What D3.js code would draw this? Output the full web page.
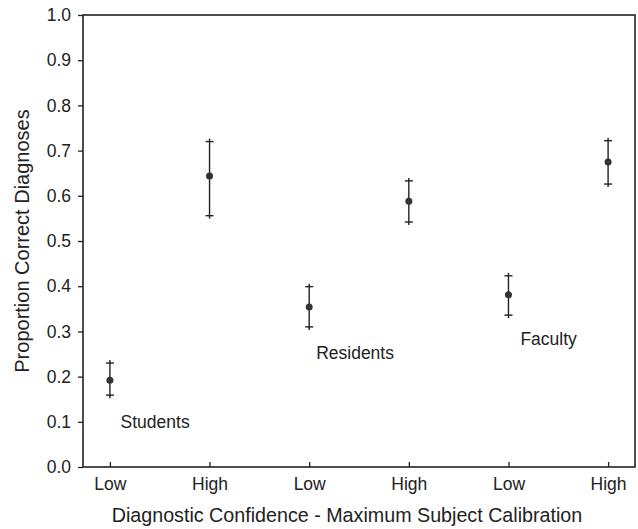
<!DOCTYPE html>
<html>
<head>
<meta charset="utf-8">
<script src="https://cdn.jsdelivr.net/npm/d3@7"></script>
<style>
  body { margin: 0; background: #fff; }
  text { font-family: "Liberation Sans", Arial, sans-serif; fill: #222; }
</style>
</head>
<body>
<div id="viz"></div>
<script>
// categories along x (position 1..6)
const tickLabels = ['Low', 'High', 'Low', 'High', 'Low', 'High'];
const groups = ['Students', 'Students', 'Residents', 'Residents', 'Faculty', 'Faculty'];
// proportion correct, with upper / lower error limits
const means = [0.192, 0.644, 0.354, 0.588, 0.381, 0.675];
const upper = [0.230, 0.720, 0.399, 0.633, 0.423, 0.722];
const lower = [0.159, 0.556, 0.310, 0.542, 0.336, 0.626];
const yTicks = [0, 0.1, 0.2, 0.3, 0.4, 0.5, 0.6, 0.7, 0.8, 0.9, 1.0];
// group labels and where they sit (x position in category units, y in data units)
const groupLabels = [
  { name: 'Students', x: 1.107, y: 0.086 },
  { name: 'Residents', x: 3.07, y: 0.239 },
  { name: 'Faculty', x: 5.12, y: 0.270 },
];

const width = 638;
const height = 529;
const margin = { left: 83, right: 3, top: 15, bottom: 62 };

const svg = d3.select('#viz').append('svg')
  .attr('width', width)
  .attr('height', height);

const xScale = d3.scaleLinear()
  .domain([0.73, 6.27])
  .range([margin.left, width - margin.right]);

const yScale = d3.scaleLinear()
  .domain([0, 1])
  .range([height - margin.bottom, margin.top]);

const ink = '#222';

// frame
svg.append('rect')
  .attr('x', xScale(0.73))
  .attr('y', yScale(1))
  .attr('width', xScale(6.27) - xScale(0.73))
  .attr('height', yScale(0) - yScale(1))
  .attr('fill', 'none')
  .attr('stroke', ink)
  .attr('stroke-width', 1.6);

// y axis
const yAxis = svg.append('g')
  .attr('transform', `translate(${margin.left},0)`)
  .call(d3.axisLeft(yScale).tickValues(yTicks).tickFormat(d3.format('.1f')).tickSize(5).tickPadding(7));
yAxis.select('.domain').remove();
yAxis.selectAll('line').attr('stroke', ink).attr('stroke-width', 1.3);
yAxis.selectAll('text').style('font-size', '17.5px').attr('fill', ink);

// x axis (ticks point inward)
const xAxis = svg.append('g')
  .attr('transform', `translate(0,${height - margin.bottom})`)
  .call(d3.axisBottom(xScale).tickValues(d3.range(1, 7)).tickFormat((d) => tickLabels[d - 1]).tickSizeInner(-5).tickSizeOuter(0).tickPadding(11));
xAxis.select('.domain').remove();
xAxis.selectAll('line').attr('stroke', ink).attr('stroke-width', 1.3);
xAxis.selectAll('text').style('font-size', '17.5px').attr('fill', ink);

// axis titles
svg.append('text')
  .attr('x', 347)
  .attr('y', 522)
  .attr('text-anchor', 'middle')
  .style('font-size', '19.7px')
  .text('Diagnostic Confidence - Maximum Subject Calibration');

svg.append('text')
  .attr('transform', `translate(29,${(margin.top + height - margin.bottom) / 2}) rotate(-90)`)
  .attr('text-anchor', 'middle')
  .style('font-size', '20px')
  .text('Proportion Correct Diagnoses');

// error bars
const data = means.map((m, i) => ({ x: i + 1, y: m, hi: upper[i], lo: lower[i], group: groups[i] }));
const bars = svg.append('g').attr('class', 'errorBars');

// whisker runs a little past each cap so the ends look like "+"
bars.selectAll('line.whisker')
  .data(data)
  .enter()
  .append('line')
  .attr('class', 'whisker')
  .attr('x1', (d) => xScale(d.x))
  .attr('x2', (d) => xScale(d.x))
  .attr('y1', (d) => yScale(d.hi) - 3)
  .attr('y2', (d) => yScale(d.lo) + 3)
  .attr('stroke', ink)
  .attr('stroke-width', 1.4);

const caps = [];
data.forEach((d) => { caps.push({ x: d.x, y: d.hi }); caps.push({ x: d.x, y: d.lo }); });
bars.selectAll('line.cap')
  .data(caps)
  .enter()
  .append('line')
  .attr('class', 'cap')
  .attr('x1', (d) => xScale(d.x) - 4)
  .attr('x2', (d) => xScale(d.x) + 4)
  .attr('y1', (d) => yScale(d.y))
  .attr('y2', (d) => yScale(d.y))
  .attr('stroke', ink)
  .attr('stroke-width', 1.4);

bars.selectAll('circle')
  .data(data)
  .enter()
  .append('circle')
  .attr('cx', (d) => xScale(d.x))
  .attr('cy', (d) => yScale(d.y))
  .attr('r', 3.5)
  .attr('fill', '#333');

// group labels
svg.selectAll('text.group')
  .data(groupLabels)
  .enter()
  .append('text')
  .attr('class', 'group')
  .attr('x', (d) => xScale(d.x))
  .attr('y', (d) => yScale(d.y))
  .style('font-size', '17.5px')
  .text((d) => d.name);
</script>
</body>
</html>
